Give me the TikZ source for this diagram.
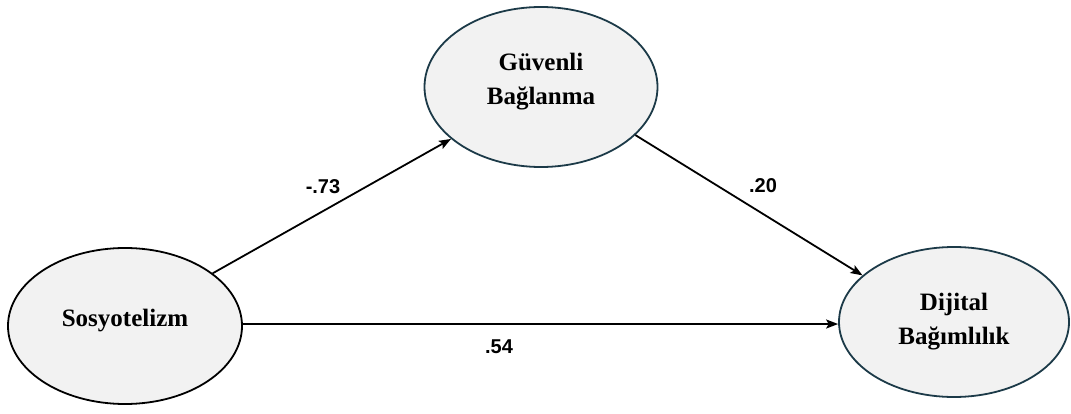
\documentclass[tikz,border=0pt]{standalone}
\usepackage{fontspec}
\setmainfont{Liberation Serif}
\newfontfamily\lblfont{Liberation Sans}
\usetikzlibrary{shapes.geometric,arrows.meta}
\definecolor{ellfill}{HTML}{F2F2F2}
\definecolor{tealline}{HTML}{1C3A48}
\tikzset{
  latent/.style={ellipse, fill=ellfill, line width=1.8pt, inner sep=0pt,
    align=center, font=\fontsize{25}{34}\selectfont\bfseries},
  path arrow/.style={line width=1.8pt, -{Stealth[length=12pt,width=9pt,inset=2.5pt]}},
  coef/.style={font=\lblfont\fontsize{20}{24}\selectfont\bfseries, inner sep=0pt}
}
\begin{document}
\begin{tikzpicture}[x=1pt,y=-1pt]
\useasboundingbox (0,0) rectangle (1071,414);
\node[latent, draw=black, minimum width=234pt, minimum height=156pt] (s) at (125,326)
  {Sosyotelizm\rule[-15.4pt]{0pt}{0pt}};
\node[latent, draw=tealline, minimum width=233pt, minimum height=160pt] (g) at (541,87)
  {Güvenli\\Bağlanma\rule[-15.5pt]{0pt}{0pt}};
\node[latent, draw=tealline, minimum width=230pt, minimum height=150pt] (d) at (954,322)
  {Dijital\\Bağımlılık};
\draw[path arrow] (s.31) -- (g.210.8);
\draw[path arrow] (g.-27.6) -- (d.153.7);
\draw[path arrow] (s.1.5) -- (d.181.5);
\node[coef] (c1) at (323,187) {-.73};
\node[coef] (c2) at (763,186) {.20};
\node[coef] (c3) at (499,347) {.54};
\end{tikzpicture}
\end{document}
